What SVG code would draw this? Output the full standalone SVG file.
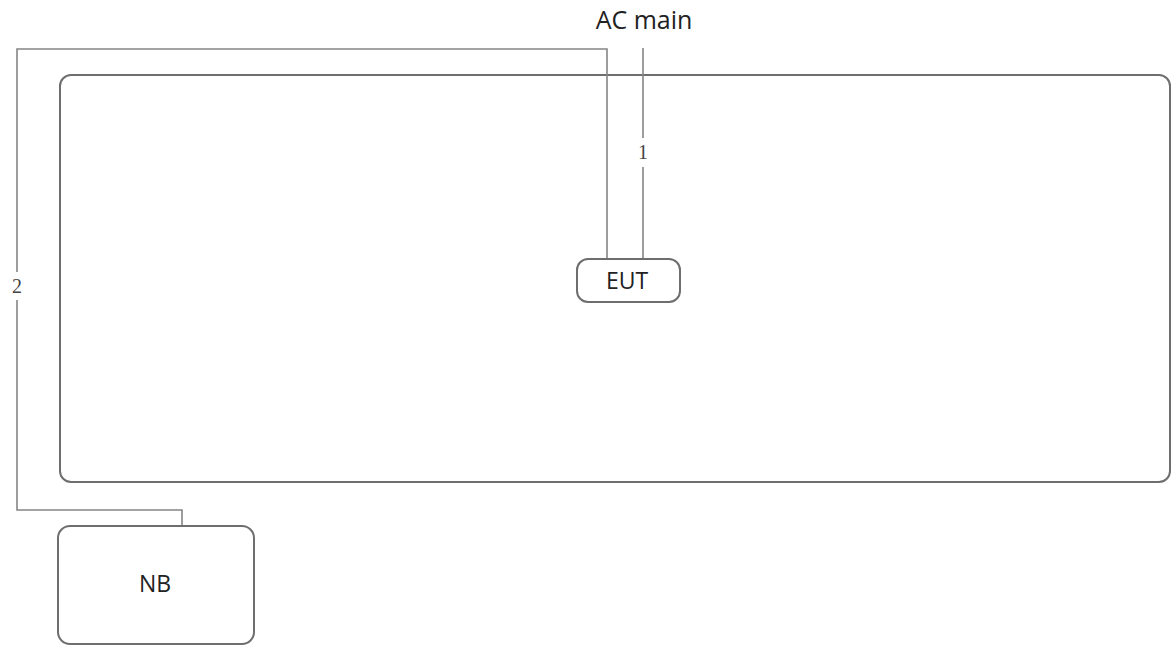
<svg xmlns="http://www.w3.org/2000/svg" width="1173" height="646" viewBox="0 0 1173 646">
<style>
.box{fill:#fff;stroke:#6e6e6e;stroke-width:2}
.wire{fill:none;stroke:#858585;stroke-width:1.6}
.lbl{font-family:"Open Sans","Liberation Sans",sans-serif;fill:#222;text-anchor:middle;font-weight:500}
.num{font-family:"Liberation Serif",serif;font-size:20px;fill:#444;text-anchor:middle}
</style>
<rect width="1173" height="646" fill="#fff"/>
<g id="enclosure">
<rect class="box" x="60" y="75" width="1110" height="407" rx="11"/>
</g>
<g id="connectors">
<polyline class="wire" points="607,259 607,49 17,49 17,510 182,510 182,526"/>
<line class="wire" x1="643" y1="48" x2="643" y2="138"/>
<line class="wire" x1="643" y1="167" x2="643" y2="259"/>
<rect x="8" y="272" width="18" height="28" fill="#fff"/>
<text class="num" x="643" y="159">1</text>
<text class="num" x="17" y="293">2</text>
</g>
<g id="ac-main">
<text class="lbl" x="644" y="29" font-size="25">AC main</text>
</g>
<g id="eut">
<rect class="box" x="577" y="259" width="103" height="43" rx="11"/>
<text class="lbl" x="627" y="289" font-size="23">EUT</text>
</g>
<g id="nb">
<rect class="box" x="58" y="526" width="196" height="118" rx="12"/>
<text class="lbl" x="155" y="592" font-size="23">NB</text>
</g>
</svg>
